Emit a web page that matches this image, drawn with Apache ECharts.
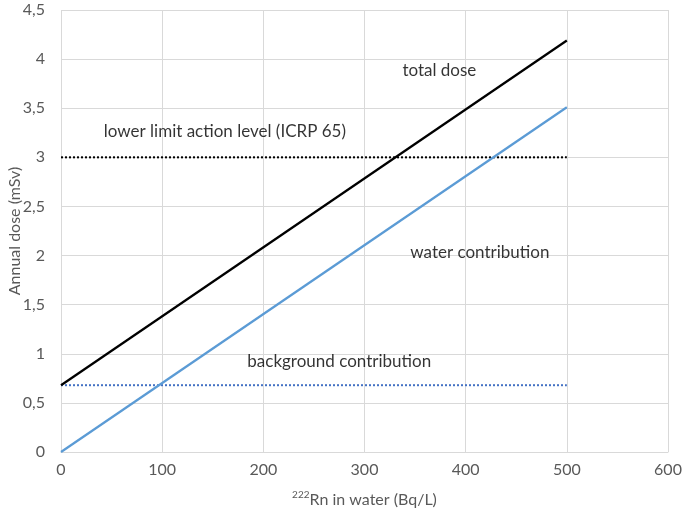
<!DOCTYPE html>
<html>
<head>
<meta charset="utf-8">
<script src="https://cdn.jsdelivr.net/npm/echarts@6/dist/echarts.min.js"></script>
<style>
  html, body { margin: 0; padding: 0; background: #fff; }
  #main { width: 686px; height: 512px; }
</style>
</head>
<body>
<div id="main"></div>
<script>
// data (x in Bq/L, y in mSv)
var radonX = [0, 500];
var totalDose = [0.68, 4.19];
var waterDose = [0, 3.51];
var background = [0.68, 0.68];
var actionLevel = [3, 3];

// text notes, placed in data coordinates
var noteText = ['total dose', 'lower limit action level (ICRP 65)', 'water contribution', 'background contribution'];
var noteX = [374, 162, 414, 275];
var noteY = [3.88, 3.26, 2.03, 0.92];

function pairs(ys) {
  return radonX.map(function (x, i) { return [x, ys[i]]; });
}

var myChart = echarts.init(document.getElementById('main'));
var font = 'Lato, "Open Sans", sans-serif';

var option = {
  animation: false,
  textStyle: { fontFamily: font },
  grid: { left: 61, right: 18, top: 10, bottom: 60, containLabel: false, outerBoundsMode: 'none' },
  xAxis: {
    type: 'value', min: 0, max: 600, interval: 100,
    axisLine: { show: true, lineStyle: { color: '#d9d9d9' } },
    axisTick: { show: false },
    splitLine: { lineStyle: { color: '#d9d9d9' } },
    axisLabel: { color: '#595959', fontSize: 16, margin: 10 },
    name: '{sup|222}{n|Rn in water (Bq/L)}',
    nameLocation: 'middle', nameGap: 38, nameMoveOverlap: false,
    nameTextStyle: {
      rich: {
        sup: { fontSize: 10, color: '#595959', verticalAlign: 'top', padding: [0, 0, 9, 0] },
        n: { fontSize: 16, color: '#595959' }
      }
    }
  },
  yAxis: {
    type: 'value', min: 0, max: 4.5, interval: 0.5,
    axisLine: { show: false },
    axisTick: { show: false },
    splitLine: { lineStyle: { color: '#d9d9d9' } },
    axisLabel: {
      color: '#595959', fontSize: 16, margin: 16,
      formatter: function (v) { return String(v).replace('.', ','); }
    },
    name: 'Annual dose (mSv)',
    nameLocation: 'middle', nameGap: 38, nameMoveOverlap: false,
    nameTextStyle: { color: '#595959', fontSize: 16 }
  },
  series: [
    {
      type: 'line', data: pairs(actionLevel), symbol: 'none',
      lineStyle: { color: '#000', width: 2, type: [2, 2] }
    },
    {
      type: 'line', data: pairs(background), symbol: 'none',
      lineStyle: { color: '#4472c4', width: 2, type: [2, 2] }
    },
    {
      type: 'line', data: pairs(waterDose), symbol: 'none',
      lineStyle: { color: '#5b9bd5', width: 2.25 }
    },
    {
      type: 'line', data: pairs(totalDose), symbol: 'none',
      lineStyle: { color: '#000', width: 2.25 }
    },
    {
      type: 'scatter', symbolSize: 0, silent: true,
      data: noteText.map(function (t, i) { return { value: [noteX[i], noteY[i]], name: t }; }),
      label: {
        show: true, position: 'inside', formatter: '{b}',
        color: '#000', fontSize: 17, fontFamily: font
      }
    }
  ]
};

myChart.setOption(option);
</script>
</body>
</html>
